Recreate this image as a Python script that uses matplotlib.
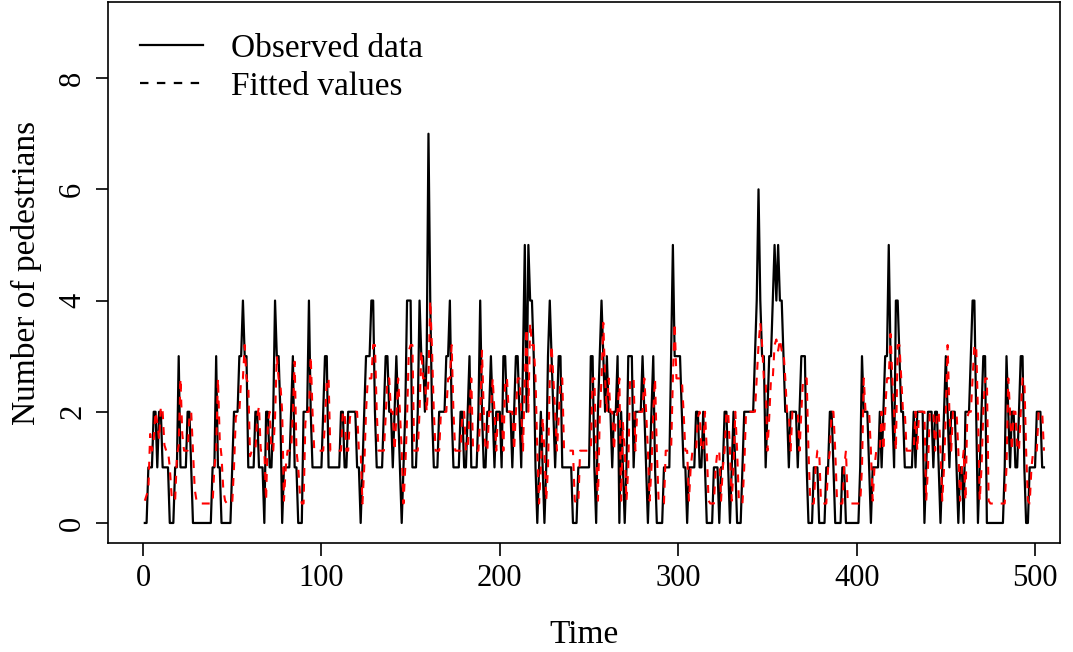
import numpy as np
import matplotlib.pyplot as plt
from matplotlib.lines import Line2D

# hourly pedestrian counts, t = 1..505
observed = [
    0, 0, 1, 1, 1, 2, 2, 1, 2, 2,  1, 1, 1, 1, 0, 0, 0, 1, 1, 3,
    1, 1, 1, 1, 2, 2, 1, 0, 0, 0,  0, 0, 0, 0, 0, 0, 0, 0, 1, 1,
    3, 1, 1, 0, 0, 0, 0, 0, 0, 1,  2, 2, 2, 3, 3, 4, 3, 3, 1, 1,
    1, 1, 2, 2, 1, 1, 1, 0, 2, 2,  1, 1, 2, 4, 3, 3, 2, 0, 1, 1,
    1, 1, 2, 3, 1, 1, 0, 0, 0, 2,  2, 2, 4, 2, 1, 1, 1, 1, 1, 1,
    2, 3, 3, 1, 1, 1, 1, 1, 1, 1,  2, 2, 1, 1, 2, 2, 2, 2, 2, 1,
    1, 0, 1, 2, 3, 3, 3, 4, 4, 2,  1, 1, 1, 1, 2, 3, 3, 2, 2, 1,
    2, 3, 2, 1, 0, 1, 2, 4, 4, 4,  1, 1, 1, 2, 4, 3, 3, 2, 3, 7,
    4, 2, 1, 1, 1, 2, 2, 2, 2, 3,  3, 4, 2, 1, 1, 1, 1, 2, 2, 1,
    1, 2, 3, 1, 1, 1, 1, 2, 4, 2,  1, 1, 2, 2, 3, 2, 1, 2, 2, 2,
    1, 3, 3, 2, 2, 2, 1, 2, 3, 3,  2, 1, 3, 5, 2, 5, 4, 4, 3, 1,
    0, 1, 2, 1, 0, 1, 3, 4, 3, 2,  1, 2, 3, 3, 1, 1, 1, 1, 1, 1,
    0, 0, 0, 1, 1, 1, 1, 1, 1, 1,  3, 3, 1, 0, 2, 3, 4, 3, 2, 3,
    2, 2, 1, 2, 2, 3, 0, 2, 1, 0,  1, 3, 3, 3, 1, 2, 2, 2, 2, 3,
    2, 1, 0, 1, 2, 3, 1, 0, 0, 0,  0, 1, 1, 1, 1, 3, 5, 3, 3, 3,
    3, 2, 1, 1, 0, 1, 1, 1, 1, 2,  2, 1, 1, 2, 1, 0, 0, 0, 0, 1,
    1, 1, 0, 1, 1, 2, 2, 1, 0, 1,  2, 1, 0, 0, 0, 1, 2, 2, 2, 2,
    2, 2, 3, 4, 6, 4, 3, 3, 1, 2,  3, 3, 4, 5, 4, 5, 4, 4, 3, 2,
    2, 1, 2, 2, 2, 2, 1, 2, 3, 3,  3, 1, 0, 0, 0, 1, 1, 1, 0, 0,
    0, 0, 1, 1, 2, 2, 1, 0, 0, 0,  0, 1, 1, 0, 0, 0, 0, 0, 0, 0,
    0, 1, 3, 2, 2, 2, 1, 0, 1, 1,  1, 1, 2, 1, 2, 3, 3, 5, 3, 2,
    1, 4, 4, 3, 2, 2, 1, 1, 1, 1,  1, 2, 1, 2, 2, 2, 2, 0, 1, 2,
    2, 2, 1, 2, 2, 1, 0, 1, 2, 3,  2, 1, 2, 2, 2, 1, 0, 1, 1, 0,
    2, 2, 2, 3, 4, 4, 2, 0, 1, 2,  3, 3, 0, 0, 0, 0, 0, 0, 0, 0,
    0, 0, 1, 3, 2, 1, 2, 2, 1, 1,  2, 3, 3, 1, 0, 0, 1, 1, 1, 1,
    2, 2, 2, 1, 1,
]

# fitted conditional means
fitted = [
    0.4, 0.5, 0.6, 1.6, 1.3, 1.5, 2.0, 1.8, 1.5, 2.1,  2.0, 1.4, 1.3, 1.3, 1.0, 0.5, 0.4, 0.4, 1.2, 1.4,
    2.6, 1.6, 1.3, 1.3, 1.3, 1.9, 2.0, 1.3, 0.6, 0.4,  0.35, 0.35, 0.35, 0.35, 0.35, 0.35, 0.35, 0.35, 0.35, 1.0,
    1.3, 2.6, 1.5, 1.2, 0.6, 0.4, 0.35, 0.35, 0.35, 0.35,  1.0, 1.9, 2.0, 2.0, 2.6, 2.6, 3.2, 2.6, 2.5, 1.2,
    1.3, 1.3, 1.3, 1.9, 2.1, 1.3, 1.3, 1.3, 0.4, 1.8,  2.0, 1.3, 1.3, 1.9, 3.0, 2.6, 2.5, 2.0, 0.4, 1.0,
    1.3, 1.3, 1.3, 2.0, 2.9, 1.3, 1.0, 0.5, 0.35, 0.35,  1.8, 2.0, 2.0, 3.0, 2.0, 1.3, 1.3, 1.3, 1.3, 1.3,
    1.3, 1.8, 2.6, 2.6, 1.3, 1.3, 1.3, 1.3, 1.3, 1.3,  1.3, 2.0, 2.0, 1.3, 1.3, 1.9, 2.0, 2.0, 2.0, 2.0,
    1.3, 1.3, 0.35, 1.0, 2.0, 2.6, 2.6, 2.6, 3.2, 3.2,  2.0, 1.3, 1.3, 1.3, 1.3, 1.9, 2.6, 2.6, 2.0, 2.0,
    1.3, 1.9, 2.6, 2.0, 1.3, 0.35, 1.0, 1.9, 3.1, 3.2,  3.2, 1.3, 1.3, 1.3, 2.0, 3.1, 2.6, 2.6, 2.0, 2.6,
    4.0, 3.1, 2.0, 1.3, 1.3, 1.3, 2.0, 2.0, 2.0, 2.0,  2.6, 2.6, 3.2, 2.0, 1.3, 1.3, 1.3, 1.3, 2.0, 2.0,
    1.3, 1.3, 2.0, 2.6, 1.3, 1.3, 1.3, 1.3, 1.9, 3.1,  2.0, 1.3, 1.3, 2.0, 2.0, 2.6, 2.0, 1.3, 2.0, 2.0,
    2.0, 1.3, 2.6, 2.6, 2.0, 2.0, 2.0, 1.3, 2.0, 2.6,  2.6, 2.0, 1.3, 2.6, 3.5, 2.0, 3.6, 3.2, 3.2, 2.6,
    1.3, 0.35, 1.0, 1.9, 1.3, 0.4, 1.0, 2.6, 3.2, 2.6,  2.0, 1.3, 1.9, 2.6, 2.6, 1.3, 1.3, 1.3, 1.3, 1.3,
    1.3, 0.4, 0.35, 0.35, 1.3, 1.3, 1.3, 1.3, 1.3, 1.3,  1.3, 2.6, 2.6, 1.3, 0.4, 1.9, 2.6, 3.6, 2.6, 2.0,
    2.6, 2.0, 2.0, 1.3, 1.9, 2.0, 2.6, 0.4, 1.8, 1.3,  0.4, 1.0, 2.6, 2.6, 2.6, 1.3, 2.0, 2.0, 2.0, 2.0,
    2.6, 2.0, 1.3, 0.4, 1.0, 2.0, 2.6, 1.3, 0.4, 0.35,  0.35, 0.35, 1.3, 1.3, 1.3, 1.3, 2.6, 3.6, 2.6, 2.6,
    2.6, 2.6, 2.0, 1.3, 1.3, 0.4, 1.0, 1.3, 1.3, 1.3,  1.9, 2.0, 1.3, 1.3, 2.0, 1.3, 0.4, 0.35, 0.35, 0.35,
    1.0, 1.3, 1.3, 0.4, 1.0, 1.3, 2.0, 2.0, 1.3, 0.4,  1.0, 2.0, 1.3, 0.4, 0.35, 0.35, 1.0, 2.0, 2.0, 2.0,
    2.0, 2.0, 2.0, 2.6, 3.2, 3.6, 3.2, 2.6, 2.6, 1.3,  1.9, 2.6, 2.6, 3.2, 3.3, 3.1, 3.3, 3.1, 3.1, 2.6,
    2.0, 2.0, 1.3, 2.0, 2.0, 2.0, 2.0, 1.3, 2.0, 2.6,  2.6, 2.6, 1.3, 0.4, 0.35, 0.35, 1.0, 1.3, 1.3, 0.4,
    0.35, 0.35, 0.35, 1.0, 1.3, 2.0, 2.0, 1.3, 0.4, 0.35,  0.35, 0.35, 1.0, 1.3, 0.4, 0.35, 0.35, 0.35, 0.35, 0.35,
    0.35, 0.35, 1.0, 2.6, 2.0, 2.0, 2.0, 1.3, 0.4, 1.0,  1.3, 1.3, 1.3, 2.0, 1.3, 2.0, 2.6, 2.6, 3.4, 2.6,
    2.0, 1.3, 3.2, 3.2, 2.6, 2.0, 2.0, 1.3, 1.3, 1.3,  1.3, 1.3, 2.0, 1.3, 2.0, 2.0, 2.0, 2.0, 0.4, 1.0,
    2.0, 2.0, 2.0, 1.3, 2.0, 2.0, 1.3, 0.4, 1.0, 2.0,  3.2, 2.0, 1.3, 2.0, 2.0, 2.0, 1.3, 0.4, 1.0, 1.3,
    0.4, 1.9, 2.0, 2.0, 2.6, 3.2, 3.2, 2.0, 0.4, 1.0,  2.0, 2.6, 2.6, 0.4, 0.35, 0.35, 0.35, 0.35, 0.35, 0.35,
    0.35, 0.35, 0.35, 1.0, 2.6, 2.0, 1.3, 2.0, 2.0, 1.3,  1.3, 2.0, 2.6, 2.6, 1.3, 0.4, 0.35, 1.0, 1.3, 1.3,
    1.3, 2.0, 2.0, 2.0, 1.3,
]

x_ticks = [0, 100, 200, 300, 400, 500]
y_ticks = [0, 2, 4, 6, 8]

time = np.arange(1, len(observed) + 1)
dash = (0, (3.8, 3.8))

plt.rcParams['font.family'] = ['Liberation Serif', 'DejaVu Serif']

fig = plt.figure(figsize=(10.73, 6.52), dpi=100)
ax = fig.add_axes([0.1007, 0.1672, 0.8872, 0.8298])

ax.plot(time, observed, color='black', lw=1.6)
ax.plot(time, fitted, color='red', lw=1.5, ls=dash)

ax.set_xlim(-19.6, 514)
ax.set_ylim(-0.36, 9.37)
ax.set_xticks(x_ticks)
ax.set_yticks(y_ticks)
ax.set_yticklabels([str(v) for v in y_ticks], rotation=90, va='center')
ax.tick_params(direction='out', length=9, width=1.2, labelsize=22, pad=6)
for s in ax.spines.values():
    s.set_linewidth(1.2)

ax.set_xlabel('Time', fontsize=24, labelpad=19)
ax.set_ylabel('Number of pedestrians', fontsize=24, labelpad=12)

handles = [Line2D([], [], color='black', lw=1.6),
           Line2D([], [], color='black', lw=1.6, ls=dash)]
ax.legend(handles, ['Observed data', 'Fitted values'], loc='upper left',
          frameon=False, fontsize=24, handlelength=1.9, handletextpad=0.85,
          labelspacing=0.22, borderaxespad=0.5, borderpad=0.45)

fig.savefig('out.png', dpi=100)
